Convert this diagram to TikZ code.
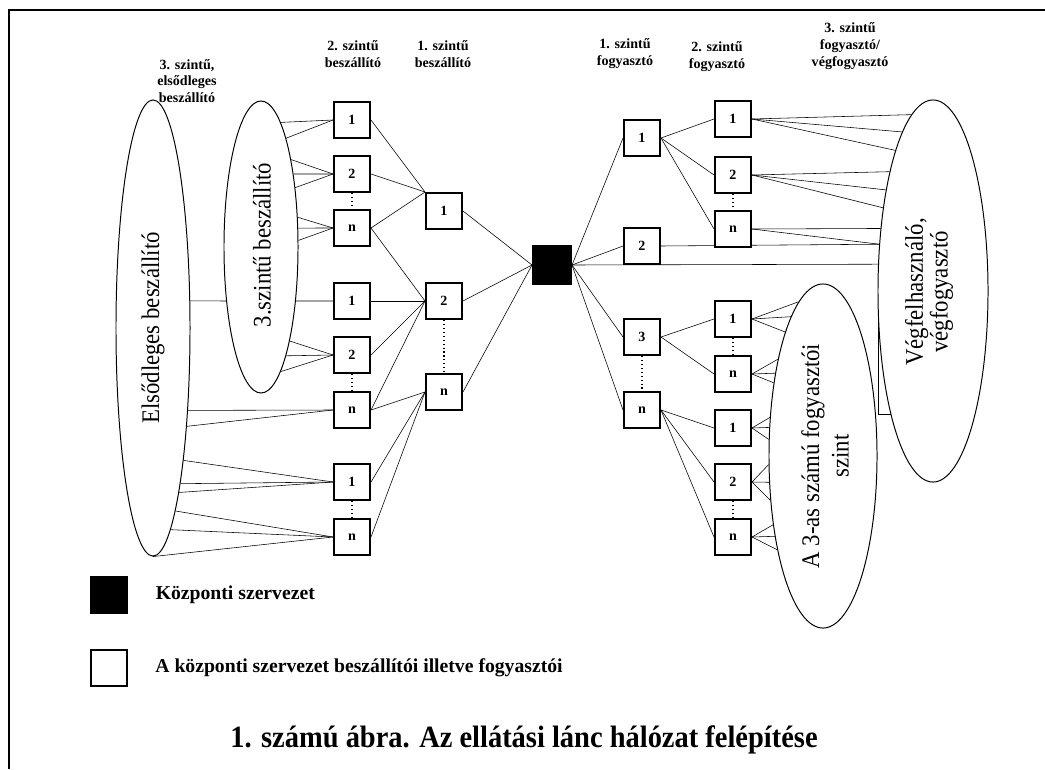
\documentclass[tikz,border=0pt]{standalone}
\usepackage{fontspec}
\setmainfont{Liberation Serif}
\newfontfamily\keskeny[FakeStretch=0.9]{Liberation Serif}
\newfontfamily\cimbetu[FakeStretch=0.92]{Liberation Serif}
\usetikzlibrary{shapes.geometric, positioning, backgrounds}

\begin{document}
\begin{tikzpicture}[
        x=0.025cm, y=-0.025cm,
        % Define styles for the boxes, the sets and the lines
        doboz/.style={draw, rectangle, line width=1.4pt, fill=white, minimum size=0.9cm, inner sep=0pt, font=\bfseries\fontsize{10}{11}\selectfont},
        kozpont/.style={doboz, fill=black, minimum size=0.95cm},
        halmaz/.style={draw, ellipse, fill=white, line width=0.7pt, inner sep=0pt},
        felirat/.style={rotate=90, align=center, font=\keskeny\fontsize{18}{21}\selectfont},
        fejlec/.style={align=center, font=\bfseries\fontsize{10}{12}\selectfont},
        jelmagy/.style={font=\bfseries\fontsize{14}{16}\selectfont},
        vonal/.style={line width=1pt},
        pontozott/.style={dotted, line width=0.8pt}
    ]
    \useasboundingbox (0,0) rectangle (1045,769);

    % Frame
    \draw[line width=1.4pt] (1045,10) -- (9,10) -- (9,769);

    % Column headings
    \node[fejlec] at (187,81) {3. szintű,\\elsődleges\\beszállító};
    \node[fejlec] at (353,54) {2. szintű\\beszállító};
    \node[fejlec] at (443,54) {1. szintű\\beszállító};
    \node[fejlec] at (625,54) {1. szintű\\fogyasztó};
    \node[fejlec] at (717,57) {2. szintű\\fogyasztó};
    \node[fejlec] at (850,46) {3. szintű\\fogyasztó/\\végfogyasztó};

    % The sets drawn as ellipses
    \node[halmaz, minimum width=1.85cm, minimum height=11.4cm] (elso) at (153,328) {};
    \node[halmaz, minimum width=1.85cm, minimum height=7.3cm] (harm) at (261,247) {};
    \node[halmaz, minimum width=2.75cm, minimum height=9.55cm] (veg) at (933,291) {};
    \node[halmaz, minimum width=2.7cm, minimum height=8.6cm] (fogy) at (823,456) {};
    \node[felirat] at (elso) {Elsődleges beszállító};
    \node[felirat] at (262,245) {3.szintű beszállító};
    \node[felirat, font=\keskeny\fontsize{18}{16}\selectfont] at (929,292) {Végfelhasználó,\\végfogyasztó};
    \node[felirat] at (825,456) {A 3-as számú fogyasztói\\szint};

    % Supplier and customer boxes
    \foreach \n/\y/\t in {sa1/120/1, sa2/174/2, san/228/n, sb1/301/1, sb2/355/2, sbn/410/n, sc1/482/1, scn/537/n}
        \node[doboz] (\n) at (352,\y) {\t};
    \foreach \n/\y/\t in {t1/211/1, t2/301/2, tn/392/n}
        \node[doboz] (\n) at (444,\y) {\t};
    \node[kozpont] (kp) at (552,265) {};
    \foreach \n/\y/\t in {f1/138/1, f2/246/2, f3/337/3, fn/410/n}
        \node[doboz] (\n) at (642,\y) {\t};
    \foreach \n/\y/\t in {ga1/119/1, ga2/175/2, gan/229/n, gb1/319/1, gbn/374/n, gc1/428/1, gc2/482/2, gcn/537/n}
        \node[doboz] (\n) at (733,\y) {\t};

    % Connecting lines
    \begin{scope}[on background layer, vonal]
        \foreach \a in {81.8, 77.8} \draw (sa1.west) -- (harm.\a);
        \foreach \a in {71.1, 66.3, 60.7} \draw (sa2.west) -- (harm.\a);
        \foreach \a in {39.6, 27.4, 10.7} \draw (san.west) -- (harm.\a);
        \draw (sb1.west) -- (elso.36.3);
        \foreach \a in {-73.2, -77, -81.6} \draw (sb2.west) -- (harm.\a);
        \foreach \a in {-67.2, -71.6} \draw (sbn.west) -- (elso.\a);
        \foreach \a in {-77.9, -80.1, -81.9} \draw (sc1.west) -- (elso.\a);
        \foreach \a in {-83.8, -85.8, -90} \draw (scn.west) -- (elso.\a);

        \foreach \s in {sa1, sa2, san} \draw (\s.east) -- (t1.north west);
        \foreach \s in {san, sb1, sb2, sbn} \draw (\s.east) -- (t2.west);
        \foreach \s in {sbn, sc1, scn} \draw (\s.east) -- (tn.west);
        \foreach \s in {t1, t2, tn} \draw (\s.east) -- (kp.west);

        \foreach \s in {f1, f2, f3, fn} \draw (kp.east) -- (\s.west);
        \foreach \s in {ga1, ga2, gan} \draw (f1.east) -- (\s.west);
        \foreach \s in {gb1, gbn} \draw (f3.east) -- (\s.west);
        \foreach \s in {gc1, gc2, gcn} \draw (fn.east) -- (\s.west);

        \foreach \a in {97.7, 101.9, 105.8} \draw (ga1.east) -- (veg.\a);
        \foreach \a in {110.1, 115.7, 121.9} \draw (ga2.east) -- (veg.\a);
        \foreach \a in {130, 139.5} \draw (gan.east) -- (veg.\a);
        \draw (f2.east) -- (veg.139.9);
        \draw (kp.east) -- (veg.154.5);
        \draw (veg.154.5) |- (veg.-109.9);

        \foreach \a in {99.2, 103.7, 107.6} \draw (gb1.east) -- (fogy.\a);
        \foreach \a in {115, 120.1, 124.7} \draw (gbn.east) -- (fogy.\a);
        \foreach \a in {144.2, 152.3, 163.4} \draw (gc1.east) -- (fogy.\a);
        \foreach \a in {189.5, 206, 220.1} \draw (gc2.east) -- (fogy.\a);
        \foreach \a in {234.8, 239.6, 244.3} \draw (gcn.east) -- (fogy.\a);
    \end{scope}

    % Dotted gaps between the boxes
    \foreach \p/\q in {sa2/san, sb2/sbn, sc1/scn, t2/tn, f3/fn, ga2/gan, gb1/gbn, gc2/gcn}
        \draw[pontozott] (\p.south) -- (\q.north);

    % Legend
    \node[kozpont, minimum size=0.92cm] (jel1) at (109,595) {};
    \node[jelmagy, right=0.56cm of jel1] (jel1szoveg) {Központi szervezet};
    \node[doboz] (jel2) at (109,668) {};
    \node[jelmagy, right=0.56cm of jel2] (jel2szoveg) {A központi szervezet beszállítói illetve fogyasztói};

    % Caption
    \node[font=\cimbetu\bfseries\fontsize{22}{26}\selectfont] (cim) at (524,740) {1. számú ábra. Az ellátási lánc hálózat felépítése};

\end{tikzpicture}
\end{document}
